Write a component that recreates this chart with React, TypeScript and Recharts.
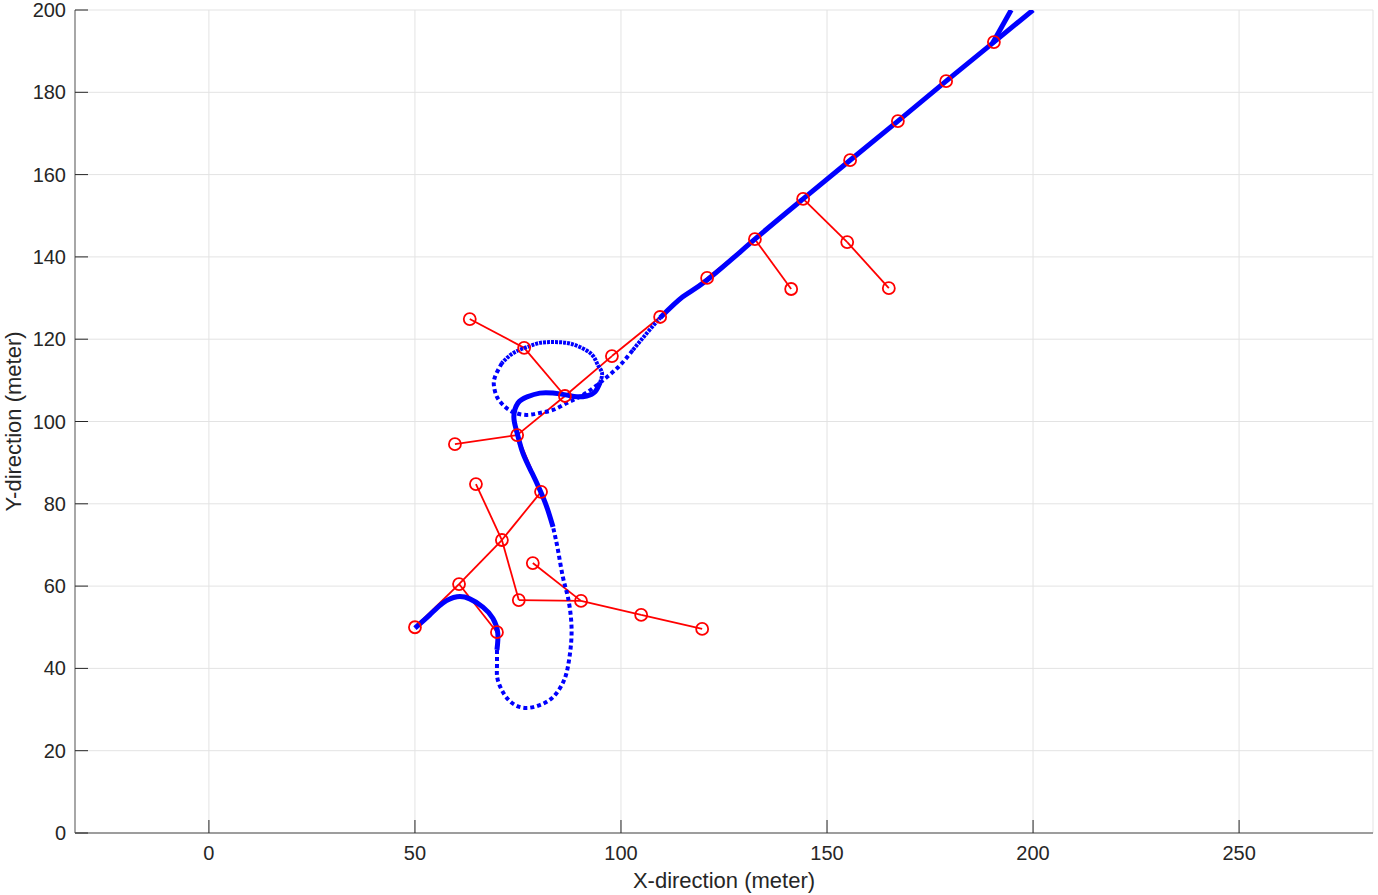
import {
  ComposedChart,
  Line,
  XAxis,
  YAxis,
  CartesianGrid,
} from "recharts"

// tree nodes (red circles)
const nodeX = [
  50, 60.7, 69.9, 71.1, 64.8, 80.6, 75.2, 90.3, 78.6, 104.9, 119.7, 74.8, 59.7, 86.4,
  76.5, 63.3, 97.8, 109.5, 120.9, 132.5, 141.3, 144.2, 154.9, 165.0, 155.6, 167.2, 178.9, 190.5,
]
const nodeY = [
  50, 60.5, 48.8, 71.2, 84.8, 82.9, 56.6, 56.4, 65.6, 53.0, 49.6, 96.7, 94.5, 106.2,
  117.9, 124.9, 115.9, 125.4, 134.9, 144.3, 132.2, 154.1, 143.6, 132.4, 163.5, 173.0, 182.7, 192.2,
]

// parent -> child links of the tree
const treeEdges = [
  [0, 1], [1, 2], [1, 3], [3, 4], [3, 5], [3, 6], [6, 7], [7, 8], [7, 9], [9, 10],
  [5, 11], [11, 12], [11, 13], [13, 14], [14, 15], [13, 16], [16, 17], [17, 18],
  [18, 19], [19, 20], [19, 21], [21, 22], [22, 23], [21, 24], [24, 25], [25, 26], [26, 27],
]

// blue path, split where the dots get sparse
const pathDense1 = [
  [50, 49.8], [53.6, 53.0], [56.8, 55.9], [60.2, 57.4], [63.3, 56.9], [66.5, 54.9],
  [68.9, 52.2], [70.1, 48.6], [69.9, 44.5],
]
const pathSparse1 = [
  [69.9, 44.5], [69.9, 40.3], [70.1, 37.2], [71.8, 33.5], [74.3, 31.1], [77.2, 30.4],
  [80.3, 31.1], [83.5, 33.0], [85.9, 36.5], [87.1, 40.3], [87.9, 46.2], [87.9, 51.8],
  [87.1, 57.4], [85.9, 62.2], [84.7, 68.8], [83.5, 74.4],
]
const pathDense2 = [
  [83.5, 74.4], [82.0, 79.2], [80.3, 83.4], [78.4, 87.5], [76.2, 92.3], [74.8, 97.2],
  [74.0, 101.1], [75.0, 104.5], [77.2, 106.0], [80.3, 106.9], [83.5, 106.9], [86.9, 106.4],
  [89.3, 106.0], [91.7, 106.2], [93.7, 107.2], [94.9, 109.4],
]
const pathMedium1 = [
  [94.9, 109.4], [95.4, 111.8], [94.4, 113.7], [93.0, 116.2], [90.0, 118.1], [86.9, 119.1],
  [83.5, 119.3], [80.3, 119.1], [77.2, 118.1], [73.8, 116.6], [71.1, 114.2],
]
const pathSparse2 = [
  [71.1, 114.2], [69.4, 110.8], [69.2, 108.4], [69.9, 106.0], [71.4, 104.0], [73.8, 102.3],
  [77.2, 101.6], [80.3, 102.1], [83.5, 102.8], [86.9, 104.5], [90.0, 106.0], [93.2, 108.1],
  [96.6, 110.8], [99.8, 113.7], [102.9, 117.4],
]
const pathMedium2 = [[102.9, 117.4], [106.3, 121.5], [109.5, 125.2]]
const pathDense3 = [
  [109.5, 125.2], [115.0, 130.3], [120.9, 134.4], [132.5, 144.3], [144.2, 154.1],
  [155.6, 163.5], [167.2, 173.0], [178.9, 182.7], [190.5, 192.2], [200, 200],
]
const pathBranch = [[190.2, 192.0], [194.7, 200]]

const xTicks = [0, 50, 100, 150, 200, 250]
const yTicks = [0, 20, 40, 60, 80, 100, 120, 140, 160, 180, 200]

const FONT = "Arial, 'Liberation Sans', Helvetica, sans-serif"
const RED = "#ff0000"
const BLUE = "#0000ff"

const toPoints = (pts: number[][]) => pts.map(([x, y]) => ({ x, y }))

const nodes = nodeX.map((x, i) => ({ x, y: nodeY[i] }))

const pathSegments = [
  { pts: pathDense1, dash: undefined, w: 5 },
  { pts: pathSparse1, dash: "4 3", w: 4 },
  { pts: pathDense2, dash: undefined, w: 5 },
  { pts: pathMedium1, dash: "3 1", w: 4 },
  { pts: pathSparse2, dash: "4 3", w: 4 },
  { pts: pathMedium2, dash: "3 1", w: 4 },
  { pts: pathDense3, dash: undefined, w: 5 },
  { pts: pathBranch, dash: undefined, w: 5 },
]

function XTick(props: any) {
  const { x, y, payload } = props
  return (
    <g>
      <line x1={x} y1={y} x2={x} y2={y - 13} stroke="#262626" strokeWidth={1} />
      <text
        x={x}
        y={y + 20}
        textAnchor="middle"
        dominantBaseline="central"
        fontSize={20}
        fontFamily={FONT}
        fill="#262626"
      >
        {payload.value}
      </text>
    </g>
  )
}

function YTick(props: any) {
  const { x, y, payload } = props
  return (
    <g>
      <line x1={x} y1={y} x2={x + 13} y2={y} stroke="#262626" strokeWidth={1} />
      <text
        x={x - 9}
        y={y}
        textAnchor="end"
        dominantBaseline="central"
        fontSize={20}
        fontFamily={FONT}
        fill="#262626"
      >
        {payload.value}
      </text>
    </g>
  )
}

export default function App() {
  return (
    <div
      style={{
        position: "absolute",
        left: 0,
        top: 0,
        width: 1378,
        height: 895,
        background: "white",
      }}
    >
      <ComposedChart
        width={1378}
        height={895}
        margin={{ top: 10, right: 5, left: 15, bottom: 0 }}
      >
        <CartesianGrid stroke="#e3e3e3" strokeWidth={1} />

        <XAxis
          type="number"
          dataKey="x"
          domain={[-32.5, 282.5]}
          ticks={xTicks}
          allowDataOverflow
          height={62}
          tickSize={0}
          tickMargin={0}
          tickLine={false}
          axisLine={{ stroke: "#808080", strokeWidth: 1.3 }}
          tick={<XTick />}
          interval={0}
          label={(p: any) => {
            const vb = p.viewBox
            return (
              <text
                x={vb.x + vb.width / 2}
                y={vb.y + 47}
                textAnchor="middle"
                dominantBaseline="central"
                fontSize={22}
                fontFamily={FONT}
                fill="#262626"
              >
                X-direction (meter)
              </text>
            )
          }}
        />

        <YAxis
          type="number"
          dataKey="y"
          domain={[0, 200]}
          ticks={yTicks}
          allowDataOverflow
          width={60}
          tickSize={0}
          tickMargin={0}
          tickLine={false}
          axisLine={{ stroke: "#808080", strokeWidth: 1.3 }}
          tick={<YTick />}
          interval={0}
          label={(p: any) => {
            const vb = p.viewBox
            const cx = vb.x - 2
            const cy = vb.y + vb.height / 2
            return (
              <text
                x={cx}
                y={cy}
                transform={`rotate(-90 ${cx} ${cy})`}
                textAnchor="middle"
                dominantBaseline="central"
                fontSize={22}
                fontFamily={FONT}
                fill="#262626"
              >
                Y-direction (meter)
              </text>
            )
          }}
        />

        {treeEdges.map(([a, b], i) => (
          <Line
            key={`edge-${i}`}
            data={[nodes[a], nodes[b]]}
            dataKey="y"
            type="linear"
            stroke={RED}
            strokeWidth={1.8}
            dot={false}
            activeDot={false}
            isAnimationActive={false}
          />
        ))}

        <Line
          data={nodes}
          dataKey="y"
          stroke="none"
          strokeWidth={0}
          dot={{ r: 6, stroke: RED, strokeWidth: 1.8, fill: "none" }}
          activeDot={false}
          isAnimationActive={false}
        />

        {pathSegments.map((seg, i) => (
          <Line
            key={`path-${i}`}
            data={toPoints(seg.pts)}
            dataKey="y"
            type="natural"
            stroke={BLUE}
            strokeWidth={seg.w}
            strokeDasharray={seg.dash}
            dot={false}
            activeDot={false}
            isAnimationActive={false}
          />
        ))}
      </ComposedChart>
    </div>
  )
}
